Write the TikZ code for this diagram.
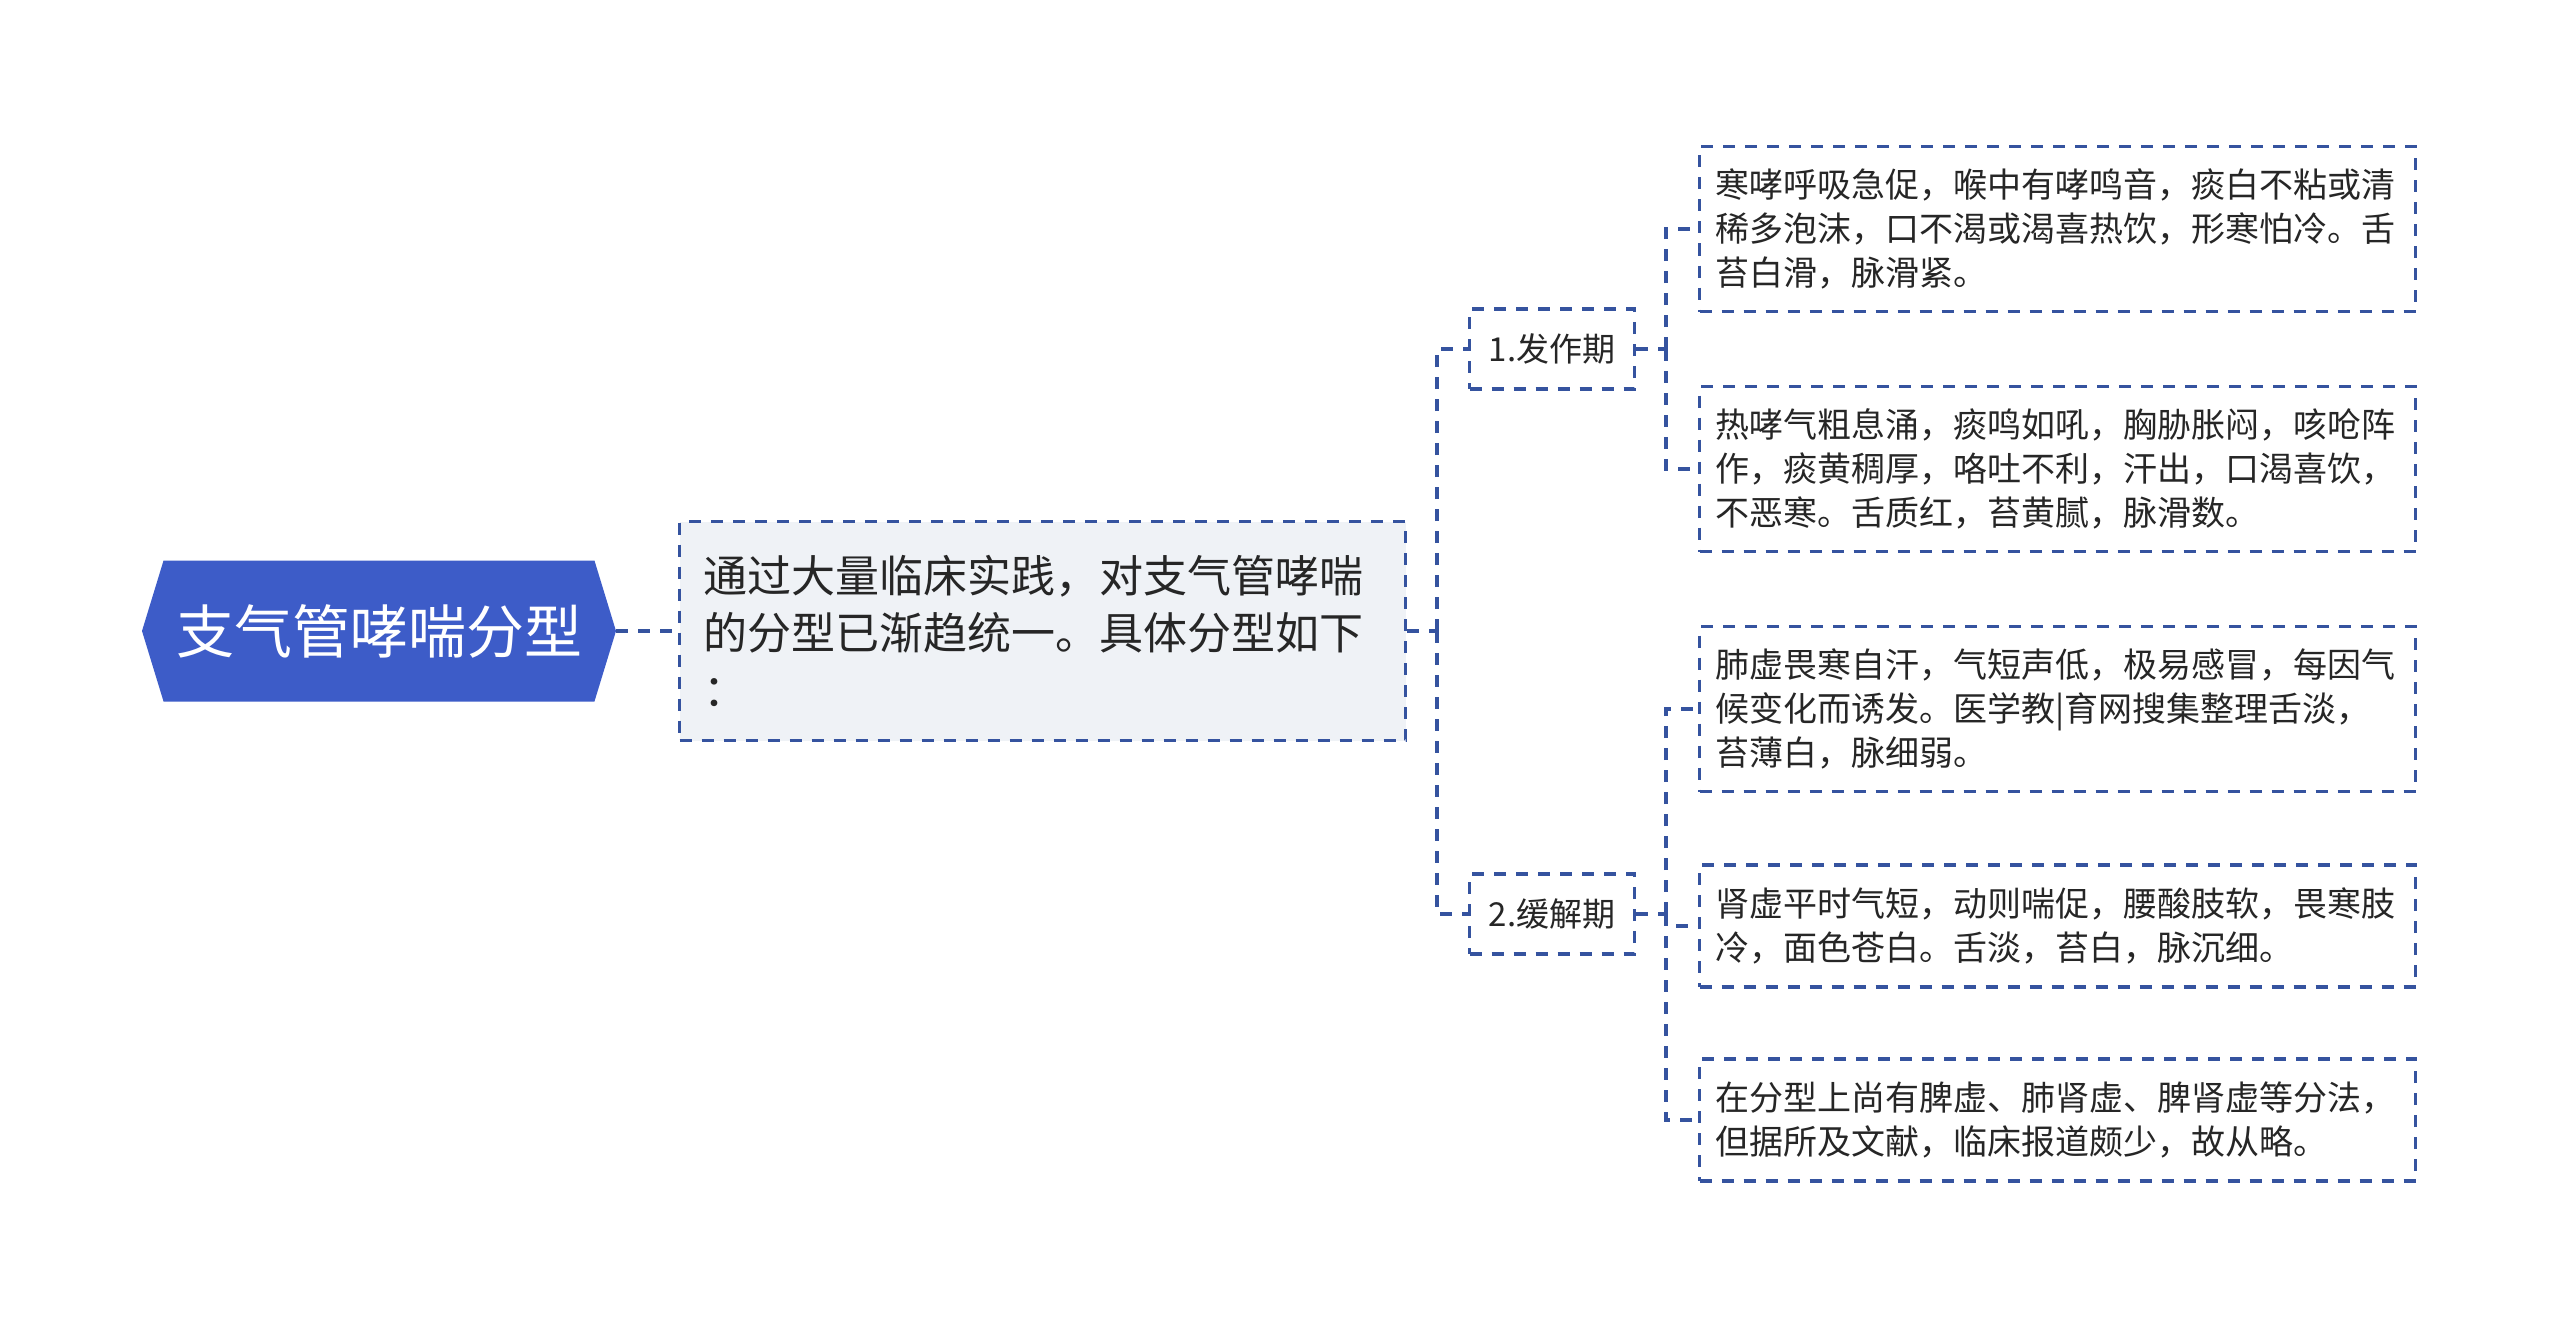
\documentclass[tikz,border=0pt]{standalone}
\usepackage{fontspec}
\setmainfont{Noto Sans CJK SC}
\usepackage{xcolor}
\usepackage{tikz}
\usetikzlibrary{positioning, shapes.symbols, calc}
\definecolor{mapcolor0}{HTML}{3D5CC8}
\definecolor{mapcolor1}{HTML}{35539F}
\definecolor{mapcolor2}{HTML}{EFF2F6}
\definecolor{mapcolor3}{HTML}{262626}
\definecolor{mapcolor4}{HTML}{FFFFFF}
\tikzset{
  dash_line/.style={line width=1.6pt, color=mapcolor1, dash pattern=on 6pt off 5pt},
  box_root/.style={signal, signal to=west and east, signal pointer angle=146, fill=mapcolor0, text=mapcolor4, minimum width=237pt, minimum height=70.5pt, inner sep=0pt, font=\fontsize{29}{34}\selectfont},
  box_intro/.style={draw=mapcolor1, dash_line, fill=mapcolor2, text=mapcolor3, align=left, text width=339pt, inner xsep=12pt, inner ysep=0pt, minimum height=109.5pt, font=\fontsize{22}{28.5}\selectfont},
  box_phase/.style={draw=mapcolor1, dash_line, fill=mapcolor4, text=mapcolor3, minimum width=82.5pt, minimum height=40pt, inner sep=0pt, font=\fontsize{16.5}{20}\selectfont},
  box_leaf/.style={draw=mapcolor1, dash_line, fill=mapcolor4, text=mapcolor3, align=left, text width=342pt, inner xsep=8pt, inner ysep=0pt, font=\fontsize{17}{22}\selectfont},
  leaf_tall/.style={box_leaf, minimum height=82.5pt},
  leaf_short/.style={box_leaf, minimum height=61pt},
  edge_link/.style={dash_line}
}
\begin{document}
\begin{tikzpicture}[x=0.5pt, y=-0.5pt]
\useasboundingbox[fill=white] (0,0) rectangle (2560,1327);
% root and intro
\node[box_root] (root_node) at (379,631) {支气管哮喘分型};
\node[box_intro, anchor=west] (intro_node) at (678,631) {通过大量临床实践，对支气管哮喘\\的分型已渐趋统一。具体分型如下\\：};
% phases
\node[box_phase, anchor=west] (phase_node_1) at (1468,349) {1.发作期};
\node[box_phase, anchor=west] (phase_node_2) at (1468,914) {2.缓解期};
% leaves
\node[leaf_tall, anchor=west] (leaf_node_1) at (1698,229) {寒哮呼吸急促，喉中有哮鸣音，痰白不粘或清\\稀多泡沫，口不渴或渴喜热饮，形寒怕冷。舌\\苔白滑，脉滑紧。};
\node[leaf_tall, anchor=west] (leaf_node_2) at (1698,469) {热哮气粗息涌，痰鸣如吼，胸胁胀闷，咳呛阵\\作，痰黄稠厚，咯吐不利，汗出，口渴喜饮，\\不恶寒。舌质红，苔黄腻，脉滑数。};
\node[leaf_tall, anchor=west] (leaf_node_3) at (1698,709) {肺虚畏寒自汗，气短声低，极易感冒，每因气\\候变化而诱发。医学教|育网搜集整理舌淡，\\苔薄白，脉细弱。};
\node[leaf_short, anchor=west] (leaf_node_4) at (1698,926) {肾虚平时气短，动则喘促，腰酸肢软，畏寒肢\\冷，面色苍白。舌淡，苔白，脉沉细。};
\node[leaf_short, anchor=west] (leaf_node_5) at (1698,1120) {在分型上尚有脾虚、肺肾虚、脾肾虚等分法，\\但据所及文献，临床报道颇少，故从略。};
% hubs
\coordinate (hub_0) at (1437,631);
\coordinate (hub_1) at (1666,349);
\coordinate (hub_2) at (1666,914);
% links
\draw[edge_link] (root_node.east) -- (intro_node.west);
\draw[edge_link] (intro_node.east) -- (hub_0);
\draw[edge_link] (hub_0) |- (phase_node_1.west);
\draw[edge_link] (hub_0) |- (phase_node_2.west);
\draw[edge_link] (phase_node_1.east) -- (hub_1);
\draw[edge_link] (hub_1) |- (leaf_node_1.west);
\draw[edge_link] (hub_1) |- (leaf_node_2.west);
\draw[edge_link] (phase_node_2.east) -- (hub_2);
\draw[edge_link] (hub_2) |- (leaf_node_3.west);
\draw[edge_link] (hub_2) |- (leaf_node_4.west);
\draw[edge_link] (hub_2) |- (leaf_node_5.west);
\end{tikzpicture}
\end{document}
